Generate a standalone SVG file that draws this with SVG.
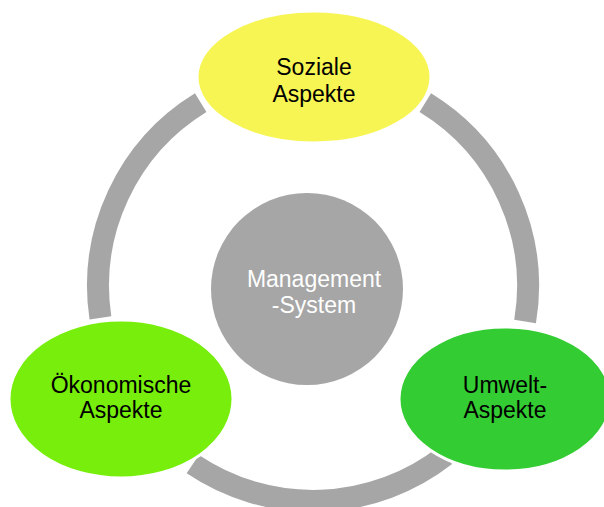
<svg xmlns="http://www.w3.org/2000/svg" width="604" height="507" viewBox="0 0 604 507">
<style>
.ring{fill:none;stroke:#A6A6A6;stroke-width:22;stroke-linecap:butt}
.node{stroke:#FFFFFF;stroke-width:3}
.lbl{font-family:"Liberation Sans",Arial,sans-serif;font-size:23px;text-anchor:middle;fill:#000000}
.lblw{fill:#FFFFFF}
</style>
<rect width="604" height="507" fill="#FFFFFF"/>
<g id="connectors">
<path class="ring" d="M 100.4 317.8 A 215 215 0 0 1 200.7 102.7"/>
<path class="ring" d="M 425.3 102.7 A 215 215 0 0 1 525.1 321.5"/>
<path class="ring" d="M 445.4 455.4 A 215 215 0 0 1 192.8 464.2"/>
</g>
<g id="management">
<circle cx="307" cy="289" r="96" fill="#A6A6A6"/>
<text class="lbl lblw" x="314" y="287">Management</text>
<text class="lbl lblw" x="314" y="313">-System</text>
</g>
<g id="soziale">
<ellipse class="node" cx="314" cy="77" rx="117" ry="66" fill="#F7F553"/>
<text class="lbl" x="314" y="75">Soziale</text>
<text class="lbl" x="314" y="102">Aspekte</text>
</g>
<g id="oekonomische">
<ellipse class="node" cx="121" cy="399" rx="112" ry="79" fill="#77EE0B"/>
<text class="lbl" x="121" y="393">Ökonomische</text>
<text class="lbl" x="121" y="418">Aspekte</text>
</g>
<g id="umwelt">
<ellipse class="node" cx="505" cy="399" rx="106" ry="72" fill="#33CC33"/>
<text class="lbl" x="505" y="393">Umwelt-</text>
<text class="lbl" x="505" y="418">Aspekte</text>
</g>
</svg>
